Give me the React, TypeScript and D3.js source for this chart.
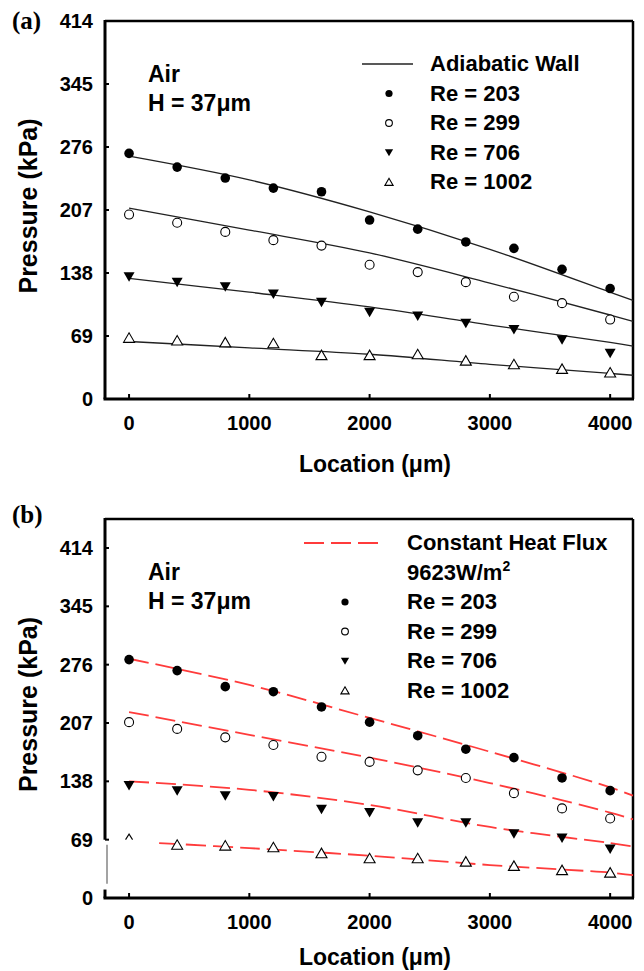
import React from "react";
import * as d3 from "d3";

// measured locations along the channel (um)
const locations = [0, 400, 800, 1200, 1600, 2000, 2400, 2800, 3200, 3600, 4000];
const xTicks = [0, 1000, 2000, 3000, 4000];
const yTicks = [0, 69, 138, 207, 276, 345, 414];

// (a) adiabatic wall, measured pressure (kPa)
const aRe203 = [269, 254, 242, 231, 227, 196, 186, 172, 165, 142, 121];
const aRe299 = [202, 193, 183, 174, 168, 147, 139, 128, 112, 105, 87];
const aRe706 = [134, 128, 123, 115, 106, 95, 91, 83, 76, 65, 50];
const aRe1002 = [67, 64, 62, 61, 48, 48, 49, 42, 38, 33, 29];

// (a) adiabatic wall model curves
const fitX = [0, 1000, 2000, 3000, 4000, 4190];
const aFit203 = [266, 240, 205, 164, 117, 108];
const aFit299 = [209, 185, 160, 127, 92, 85];
const aFit706 = [132, 117, 101, 81, 62, 58];
const aFit1002 = [63, 56, 49, 38, 28, 26];

// (b) constant heat flux, measured pressure (kPa)
const bRe203 = [282, 269, 250, 244, 226, 208, 192, 176, 166, 142, 127];
const bRe299 = [208, 200, 190, 181, 167, 161, 151, 142, 124, 106, 94];
const bRe706 = [133, 127, 121, 120, 105, 101, 89, 89, 76, 71, 58];
const bRe1002 = [72, 63, 62, 60, 53, 47, 47, 43, 38, 33, 30];

// (b) constant heat flux model curves
const bFit203 = [283, 252, 213, 173, 131, 121];
const bFit299 = [220, 193, 166, 136, 101, 93];
const bFit706 = [138, 128, 110, 84, 65, 61];
const fitX1002b = [250, 1000, 2000, 3000, 4000, 4190];
const bFit1002 = [65, 59, 50, 39, 30, 27];

const reLabels = ["Re = 203", "Re = 299", "Re = 706", "Re = 1002"];
const markerKinds = ["dot", "circle", "down", "up"];

const FONT = "'Liberation Sans', Arial, sans-serif";

function Marker({ kind, x, y, s = 1 }: { kind: string; x: number; y: number; s?: number }) {
  if (kind === "dot") return <circle cx={x} cy={y} r={4.8 * s} fill="#000" />;
  if (kind === "circle")
    return <circle cx={x} cy={y} r={4.5 * s} fill="#fff" stroke="#000" strokeWidth={1.1} />;
  if (kind === "down") {
    const p = d3.path();
    p.moveTo(x - 5.5 * s, y - 4.5 * s);
    p.lineTo(x + 5.5 * s, y - 4.5 * s);
    p.lineTo(x, y + 5 * s);
    p.closePath();
    return <path d={p.toString()} fill="#000" />;
  }
  if (kind === "caret") {
    const p = d3.path();
    p.moveTo(x - 3.5, y + 2.5);
    p.lineTo(x, y - 3);
    p.lineTo(x + 3.5, y + 2.5);
    return <path d={p.toString()} fill="none" stroke="#000" strokeWidth={1.1} />;
  }
  const p = d3.path();
  p.moveTo(x - 5.5 * s, y + 4.5 * s);
  p.lineTo(x + 5.5 * s, y + 4.5 * s);
  p.lineTo(x, y - 5 * s);
  p.closePath();
  return <path d={p.toString()} fill="#fff" stroke="#000" strokeWidth={1.1} />;
}

type Fit = { xs: number[]; ys: number[] };

function Panel(props: {
  top: number;
  bottom: number;
  y414: number;
  tag: string;
  tagY: number;
  series: number[][];
  fits: Fit[];
  dashed: boolean;
  legendTitle: string[];
  legendX: number;
  legendLineX: [number, number];
  legendMarkX: number;
  legendBase: number;
  xTitleY: number;
  axisBreak: boolean;
}) {
  const left = 105, right = 633;
  const x = d3.scaleLinear().domain([-200, 4190]).range([left, right]);
  const y = d3.scaleLinear().domain([0, 414]).range([props.bottom, props.y414]);
  const line = d3
    .line<[number, number]>()
    .x((d) => x(d[0]))
    .y((d) => y(d[1]))
    .curve(d3.curveCatmullRom.alpha(0.5));
  const red = "#ff3b3b";
  const lineStyle = props.dashed
    ? { stroke: red, strokeWidth: 1.8, strokeDasharray: "20 7" }
    : { stroke: "#222", strokeWidth: 1.3 };
  const tb = props.legendBase;
  const nTitle = props.legendTitle.length;
  return (
    <g>
      <text x={12} y={props.tagY} fontFamily="'Liberation Serif', serif" fontWeight="bold" fontSize={25}>
        {props.tag}
      </text>
      {/* frame */}
      <line x1={left} x2={right} y1={props.top} y2={props.top} stroke="#000" strokeWidth={2.5} />
      <line x1={right} x2={right} y1={props.top} y2={props.bottom} stroke="#000" strokeWidth={2.5} />
      <line x1={left - 1.5} x2={right + 1} y1={props.bottom} y2={props.bottom} stroke="#000" strokeWidth={3} />
      {props.axisBreak ? (
        <g>
          <line x1={left} x2={left} y1={props.top - 1} y2={y(69)} stroke="#000" strokeWidth={3} />
          <line x1={left + 2} x2={left + 2} y1={y(63)} y2={y(17)} stroke="#666" strokeWidth={1.2} />
          <line x1={left} x2={left} y1={y(10)} y2={props.bottom} stroke="#000" strokeWidth={3} />
        </g>
      ) : (
        <line x1={left} x2={left} y1={props.top - 1} y2={props.bottom} stroke="#000" strokeWidth={3} />
      )}
      {yTicks.map((t) => (
        <g key={"y" + t}>
          <line x1={left} x2={left + 4} y1={y(t)} y2={y(t)} stroke="#000" strokeWidth={2} />
          <text x={93} y={y(t) + 7} textAnchor="end" fontFamily={FONT} fontWeight="bold" fontSize={20}>
            {t}
          </text>
        </g>
      ))}
      {xTicks.map((t) => (
        <g key={"x" + t}>
          <line x1={x(t)} x2={x(t)} y1={props.bottom} y2={props.bottom - 5} stroke="#000" strokeWidth={2} />
          <text x={x(t)} y={props.bottom + 31} textAnchor="middle" fontFamily={FONT} fontWeight="bold" fontSize={20}>
            {t}
          </text>
        </g>
      ))}
      <text
        transform={`translate(37,${(props.top + props.bottom) / 2 - 4}) rotate(-90)`}
        textAnchor="middle"
        fontFamily={FONT}
        fontWeight="bold"
        fontSize={25}
      >
        Pressure (kPa)
      </text>
      <text x={375} y={props.xTitleY} textAnchor="middle" fontFamily={FONT} fontWeight="bold" fontSize={23}>
        Location (μm)
      </text>
      <text x={148} y={props.top + 61} fontFamily={FONT} fontWeight="bold" fontSize={23}>
        Air
      </text>
      <text x={148} y={props.top + 90} fontFamily={FONT} fontWeight="bold" fontSize={23}>
        H = 37μm
      </text>
      {/* fits */}
      {props.fits.map((f, i) => (
        <path
          key={"f" + i}
          d={line(f.xs.map((v, j) => [v, f.ys[j]] as [number, number])) || ""}
          fill="none"
          {...lineStyle}
        />
      ))}
      {/* measurements */}
      {props.series.map((s, i) =>
        s.map((v, j) => {
          const kind = props.axisBreak && i === 3 && j === 0 ? "caret" : markerKinds[i];
          return <Marker key={`m${i}-${j}`} kind={kind} x={x(locations[j])} y={y(v)} />;
        })
      )}
      {/* legend */}
      <line
        x1={props.legendLineX[0]}
        x2={props.legendLineX[1]}
        y1={tb - 7}
        y2={tb - 7}
        {...lineStyle}
      />
      {props.legendTitle.map((t, i) => (
        <text key={"lt" + i} x={props.legendX} y={tb + i * 30} fontFamily={FONT} fontWeight="bold" fontSize={22}>
          {i === 1 && props.dashed ? (
            <>
              9623W/m<tspan dy={-9} fontSize={14}>2</tspan>
            </>
          ) : (
            t
          )}
        </text>
      ))}
      {reLabels.map((t, i) => {
        const by = tb + (nTitle + i) * 29.5;
        return (
          <g key={"re" + i}>
            <Marker kind={markerKinds[i]} x={props.legendMarkX} y={by - 7} s={0.75} />
            <text x={props.legendX} y={by} fontFamily={FONT} fontWeight="bold" fontSize={22}>
              {t}
            </text>
          </g>
        );
      })}
    </g>
  );
}

export default function App() {
  return (
    <svg width={644} height={971} style={{ position: "absolute", left: 0, top: 0, background: "#fff" }}>
      <rect width={644} height={971} fill="#fff" />
      <Panel
        top={21}
        bottom={399}
        y414={21}
        tag="(a)"
        tagY={29}
        series={[aRe203, aRe299, aRe706, aRe1002]}
        fits={[
          { xs: fitX, ys: aFit203 },
          { xs: fitX, ys: aFit299 },
          { xs: fitX, ys: aFit706 },
          { xs: fitX, ys: aFit1002 },
        ]}
        dashed={false}
        legendTitle={["Adiabatic Wall"]}
        legendX={430}
        legendLineX={[362, 413]}
        legendMarkX={389}
        legendBase={71}
        xTitleY={472}
        axisBreak={false}
      />
      <Panel
        top={519}
        bottom={898}
        y414={548}
        tag="(b)"
        tagY={523}
        series={[bRe203, bRe299, bRe706, bRe1002]}
        fits={[
          { xs: fitX, ys: bFit203 },
          { xs: fitX, ys: bFit299 },
          { xs: fitX, ys: bFit706 },
          { xs: fitX1002b, ys: bFit1002 },
        ]}
        dashed={true}
        legendTitle={["Constant Heat Flux", "9623W/m2"]}
        legendX={407}
        legendLineX={[304, 380]}
        legendMarkX={345}
        legendBase={550}
        xTitleY={965}
        axisBreak={true}
      />
    </svg>
  );
}
